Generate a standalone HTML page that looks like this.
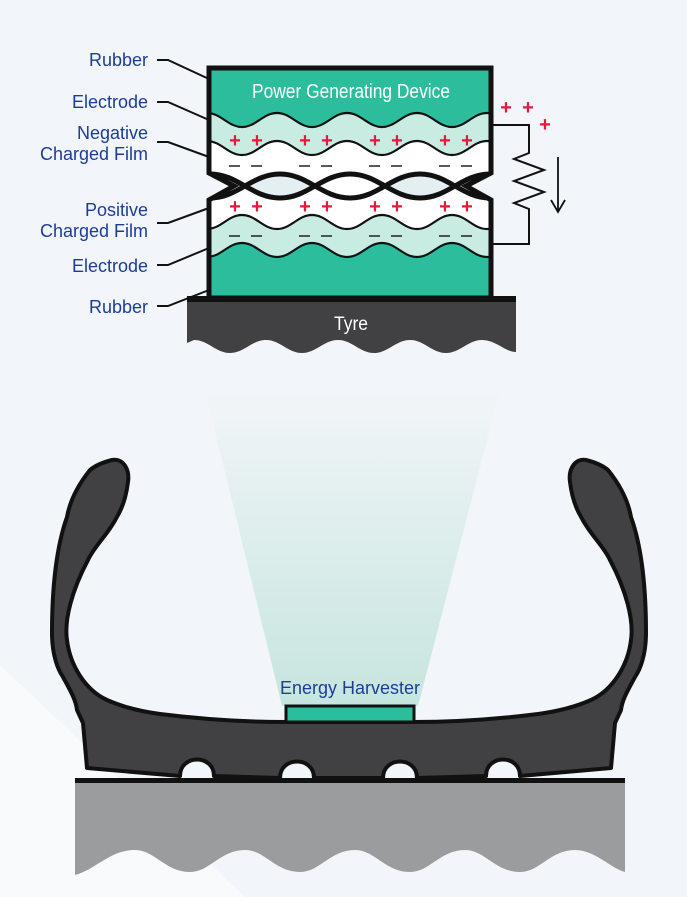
<!DOCTYPE html>
<html><head><meta charset="utf-8"><style>
html,body{margin:0;padding:0;background:#f2f5f9;}
svg{display:block}
text{font-family:"Liberation Sans Narrow","Liberation Sans",sans-serif;}
</style></head><body>
<svg width="687" height="897" viewBox="0 0 687 897" xmlns="http://www.w3.org/2000/svg">
<defs>
<linearGradient id="beam" x1="0" y1="0" x2="0" y2="1">
<stop offset="0" stop-color="#f2f5f9"/>
<stop offset="1" stop-color="#c6e5df"/>
</linearGradient>
<clipPath id="box"><path d="M209,68 L491,68 L491,173 L466,186 L491,200 L491,298 L209,298 L209,200 L234,186 L209,173 Z"/></clipPath>
<clipPath id="aboveB"><path d="M140,174 C168,174 182,198 210,198 S252,174 280,174 S322,198 350,198 S392,174 420,174 S462,198 490,198 S532,174 560,174 L560,50 L140,50 Z"/></clipPath>
<clipPath id="belowB"><path d="M140,174 C168,174 182,198 210,198 S252,174 280,174 S322,198 350,198 S392,174 420,174 S462,198 490,198 S532,174 560,174 L560,310 L140,310 Z"/></clipPath>
</defs>
<rect width="687" height="897" fill="#f2f5f9"/>
<polygon points="0,665 245,897 0,897" fill="#f8fafc"/>
<polygon points="205,390 500,390 418,706 282,706" fill="url(#beam)"/>

<g clip-path="url(#box)">
<rect x="200" y="60" width="300" height="250" fill="#2bbd9c"/>
<path d="M172,127 C186,127 193,113 207,113 S228,127 242,127 S263,113 277,113 S298,127 312,127 S333,113 347,113 S368,127 382,127 S403,113 417,113 S438,127 452,127 S473,113 487,113 S508,127 522,127 L522,310 L172,310 Z" fill="#c8ebe2"/>
<rect x="200" y="150" width="300" height="70" fill="#e3eff1"/>
<path d="M172,155 C186,155 193,141 207,141 S228,155 242,155 S263,141 277,141 S298,155 312,155 S333,141 347,141 S368,155 382,155 S403,141 417,141 S438,155 452,155 S473,141 487,141 S508,155 522,155 L522,300 L172,300 Z" fill="#ffffff" clip-path="url(#aboveB)"/>
<rect x="200" y="140" width="300" height="20" fill="none"/>
<path d="M140,198 C168,198 182,174 210,174 S252,198 280,198 S322,174 350,174 S392,198 420,198 S462,174 490,174 S532,198 560,198 L560,140 L140,140 Z" fill="#ffffff" clip-path="url(#aboveB)"/>
<path d="M140,198 C168,198 182,174 210,174 S252,198 280,198 S322,174 350,174 S392,198 420,198 S462,174 490,174 S532,198 560,198 L560,310 L140,310 Z" fill="#ffffff" clip-path="url(#belowB)"/>
<path d="M172,148 C186,148 193,141 207,141 L522,141 L522,155 L172,155 Z" fill="none"/>
<path d="M172,155 C186,155 193,141 207,141 S228,155 242,155 S263,141 277,141 S298,155 312,155 S333,141 347,141 S368,155 382,155 S403,141 417,141 S438,155 452,155 S473,141 487,141 S508,155 522,155 L522,60 L172,60 Z" fill="#c8ebe2"/>
<path d="M172,127 C186,127 193,113 207,113 S228,127 242,127 S263,113 277,113 S298,127 312,127 S333,113 347,113 S368,127 382,127 S403,113 417,113 S438,127 452,127 S473,113 487,113 S508,127 522,127 L522,60 L172,60 Z" fill="#2bbd9c"/>
<path d="M172,215 C186,215 193,229 207,229 S228,215 242,215 S263,229 277,229 S298,215 312,215 S333,229 347,229 S368,215 382,215 S403,229 417,229 S438,215 452,215 S473,229 487,229 S508,215 522,215 L522,310 L172,310 Z" fill="#c8ebe2"/>
<path d="M172,243 C186,243 193,257 207,257 S228,243 242,243 S263,257 277,257 S298,243 312,243 S333,257 347,257 S368,243 382,243 S403,257 417,257 S438,243 452,243 S473,257 487,257 S508,243 522,243 L522,310 L172,310 Z" fill="#2bbd9c"/>
<g fill="none" stroke="#111" stroke-width="2.2">
<path d="M172,127 C186,127 193,113 207,113 S228,127 242,127 S263,113 277,113 S298,127 312,127 S333,113 347,113 S368,127 382,127 S403,113 417,113 S438,127 452,127 S473,113 487,113 S508,127 522,127"/>
<path d="M172,155 C186,155 193,141 207,141 S228,155 242,155 S263,141 277,141 S298,155 312,155 S333,141 347,141 S368,155 382,155 S403,141 417,141 S438,155 452,155 S473,141 487,141 S508,155 522,155"/>
<path d="M172,215 C186,215 193,229 207,229 S228,215 242,215 S263,229 277,229 S298,215 312,215 S333,229 347,229 S368,215 382,215 S403,229 417,229 S438,215 452,215 S473,229 487,229 S508,215 522,215"/>
<path d="M172,243 C186,243 193,257 207,257 S228,243 242,243 S263,257 277,257 S298,243 312,243 S333,257 347,257 S368,243 382,243 S403,257 417,257 S438,243 452,243 S473,257 487,257 S508,243 522,243"/>
</g>
<g fill="none" stroke="#111" stroke-width="5">
<path d="M140,174 C168,174 182,198 210,198 S252,174 280,174 S322,198 350,198 S392,174 420,174 S462,198 490,198 S532,174 560,174"/>
<path d="M140,198 C168,198 182,174 210,174 S252,198 280,198 S322,174 350,174 S392,198 420,198 S462,174 490,174 S532,198 560,198"/>
</g>
</g>
<path d="M209,68 L491,68 L491,173 L466,186 L491,200 L491,298 L209,298 L209,200 L234,186 L209,173 Z" fill="none" stroke="#111" stroke-width="5"/>
<text x="351" y="98" text-anchor="middle" font-size="20" fill="#fff" textLength="198" lengthAdjust="spacingAndGlyphs">Power Generating Device</text>

<g fill="#e8173c" font-size="20" font-weight="bold" font-family="Liberation Sans,sans-serif" text-anchor="middle">
<text x="235" y="147">+</text><text x="257" y="147">+</text><text x="305" y="147">+</text><text x="327" y="147">+</text>
<text x="375" y="147">+</text><text x="397" y="147">+</text><text x="445" y="147">+</text><text x="467" y="147">+</text>
<text x="235" y="213">+</text><text x="257" y="213">+</text><text x="305" y="213">+</text><text x="327" y="213">+</text>
<text x="375" y="213">+</text><text x="397" y="213">+</text><text x="445" y="213">+</text><text x="467" y="213">+</text>
<text x="506" y="114">+</text><text x="528" y="114">+</text><text x="545" y="131">+</text>
</g>
<g stroke="#222" stroke-width="1.6">
<path d="M229,166h11M251,166h11M299,166h11M321,166h11M369,166h11M391,166h11M439,166h11M461,166h11"/>
<path d="M229,236h11M251,236h11M299,236h11M321,236h11M369,236h11M391,236h11M439,236h11M461,236h11"/>
</g>
<path d="M491,125 H529 V153 L514,159 L544,170 L514,181 L544,192 L514,203 L529,209 V244 H491" fill="none" stroke="#111" stroke-width="2"/>
<path d="M558,157 V212 M551,200 L558,212 L565,200" fill="none" stroke="#111" stroke-width="1.8"/>

<path d="M187,300 H516 V352 C505,352 496,340 482,340 C468,340 460,353 446,353 C432,353 424,340 410,340 C396,340 388,353 374,353 C360,353 352,340 338,340 C324,340 316,353 302,353 C288,353 280,340 266,340 C252,340 244,353 230,353 C216,353 208,340 194,340 L187,343 Z" fill="#414143"/>
<rect x="187" y="296" width="329" height="6" fill="#111"/>
<text x="351" y="330" text-anchor="middle" font-size="19" fill="#fff" textLength="34" lengthAdjust="spacingAndGlyphs">Tyre</text>

<g fill="#1b3d97" font-size="18" text-anchor="end">
<text x="148" y="66">Rubber</text>
<text x="148" y="108">Electrode</text>
<text x="148" y="139">Negative</text>
<text x="148" y="160">Charged Film</text>
<text x="148" y="216">Positive</text>
<text x="148" y="237">Charged Film</text>
<text x="148" y="272">Electrode</text>
<text x="148" y="313">Rubber</text>
</g>
<g fill="none" stroke="#111" stroke-width="2">
<path d="M157,60 H168 L209,79"/>
<path d="M157,102 H168 L209,120"/>
<path d="M157,142 H168 L209,157"/>
<path d="M157,223 H168 L209,208"/>
<path d="M157,265 H168 L209,248"/>
<path d="M157,306 H168 L209,290"/>
</g>

<path d="M75,783 H625 V872 C610,868 595,850 575,850 C550,850 540,872 520,872 C495,872 485,850 465,850 C440,850 430,872 410,872 C385,872 375,850 355,850 C330,850 320,872 300,872 C275,872 265,850 245,850 C220,850 210,872 190,872 C165,872 155,850 135,850 C110,850 95,870 75,875 Z" fill="#9b9c9e"/>
<rect x="75" y="778" width="550" height="5" fill="#111"/>

<path d="M112,460 C122,458 130,468 128,482 C126,498 122,508 118,515 C108,535 95,545 88,560 C72,590 64,620 67,640 C70,665 85,690 107,700 C125,708 145,712 160,714 C200,719 240,722 285,722 L413,722 C458,722 498,719 538,714 C553,712 573,708 591,700 C613,690 628,665 631,640 C634,620 626,590 610,560 C603,545 590,535 580,515 C576,508 572,498 570,482 C568,468 576,458 586,460 C594,462 602,465 608,470 C620,485 628,500 631,517 C641,545 646,583 646,633 C646,655 640,670 635,677 C628,690 622,700 621,710 L615,723 L611,768 L520,776 C520,754 486,754 486,776 L417,778 C417,756 383,756 383,778 L314,778 C314,756 280,756 280,778 L214,776 C214,754 180,754 180,776 L87,768 L83,723 L77,710 C76,700 70,690 63,677 C58,670 52,655 52,633 C52,583 57,545 67,517 C70,500 78,485 90,470 C96,465 104,462 112,460 Z" fill="#414143" stroke="#111" stroke-width="4" stroke-linejoin="round"/>
<rect x="286" y="706" width="128" height="16" fill="#2bbd9c" stroke="#111" stroke-width="3"/>
<text x="350" y="694" text-anchor="middle" font-size="18" fill="#1b3d97">Energy Harvester</text>
</svg>
</body></html>
